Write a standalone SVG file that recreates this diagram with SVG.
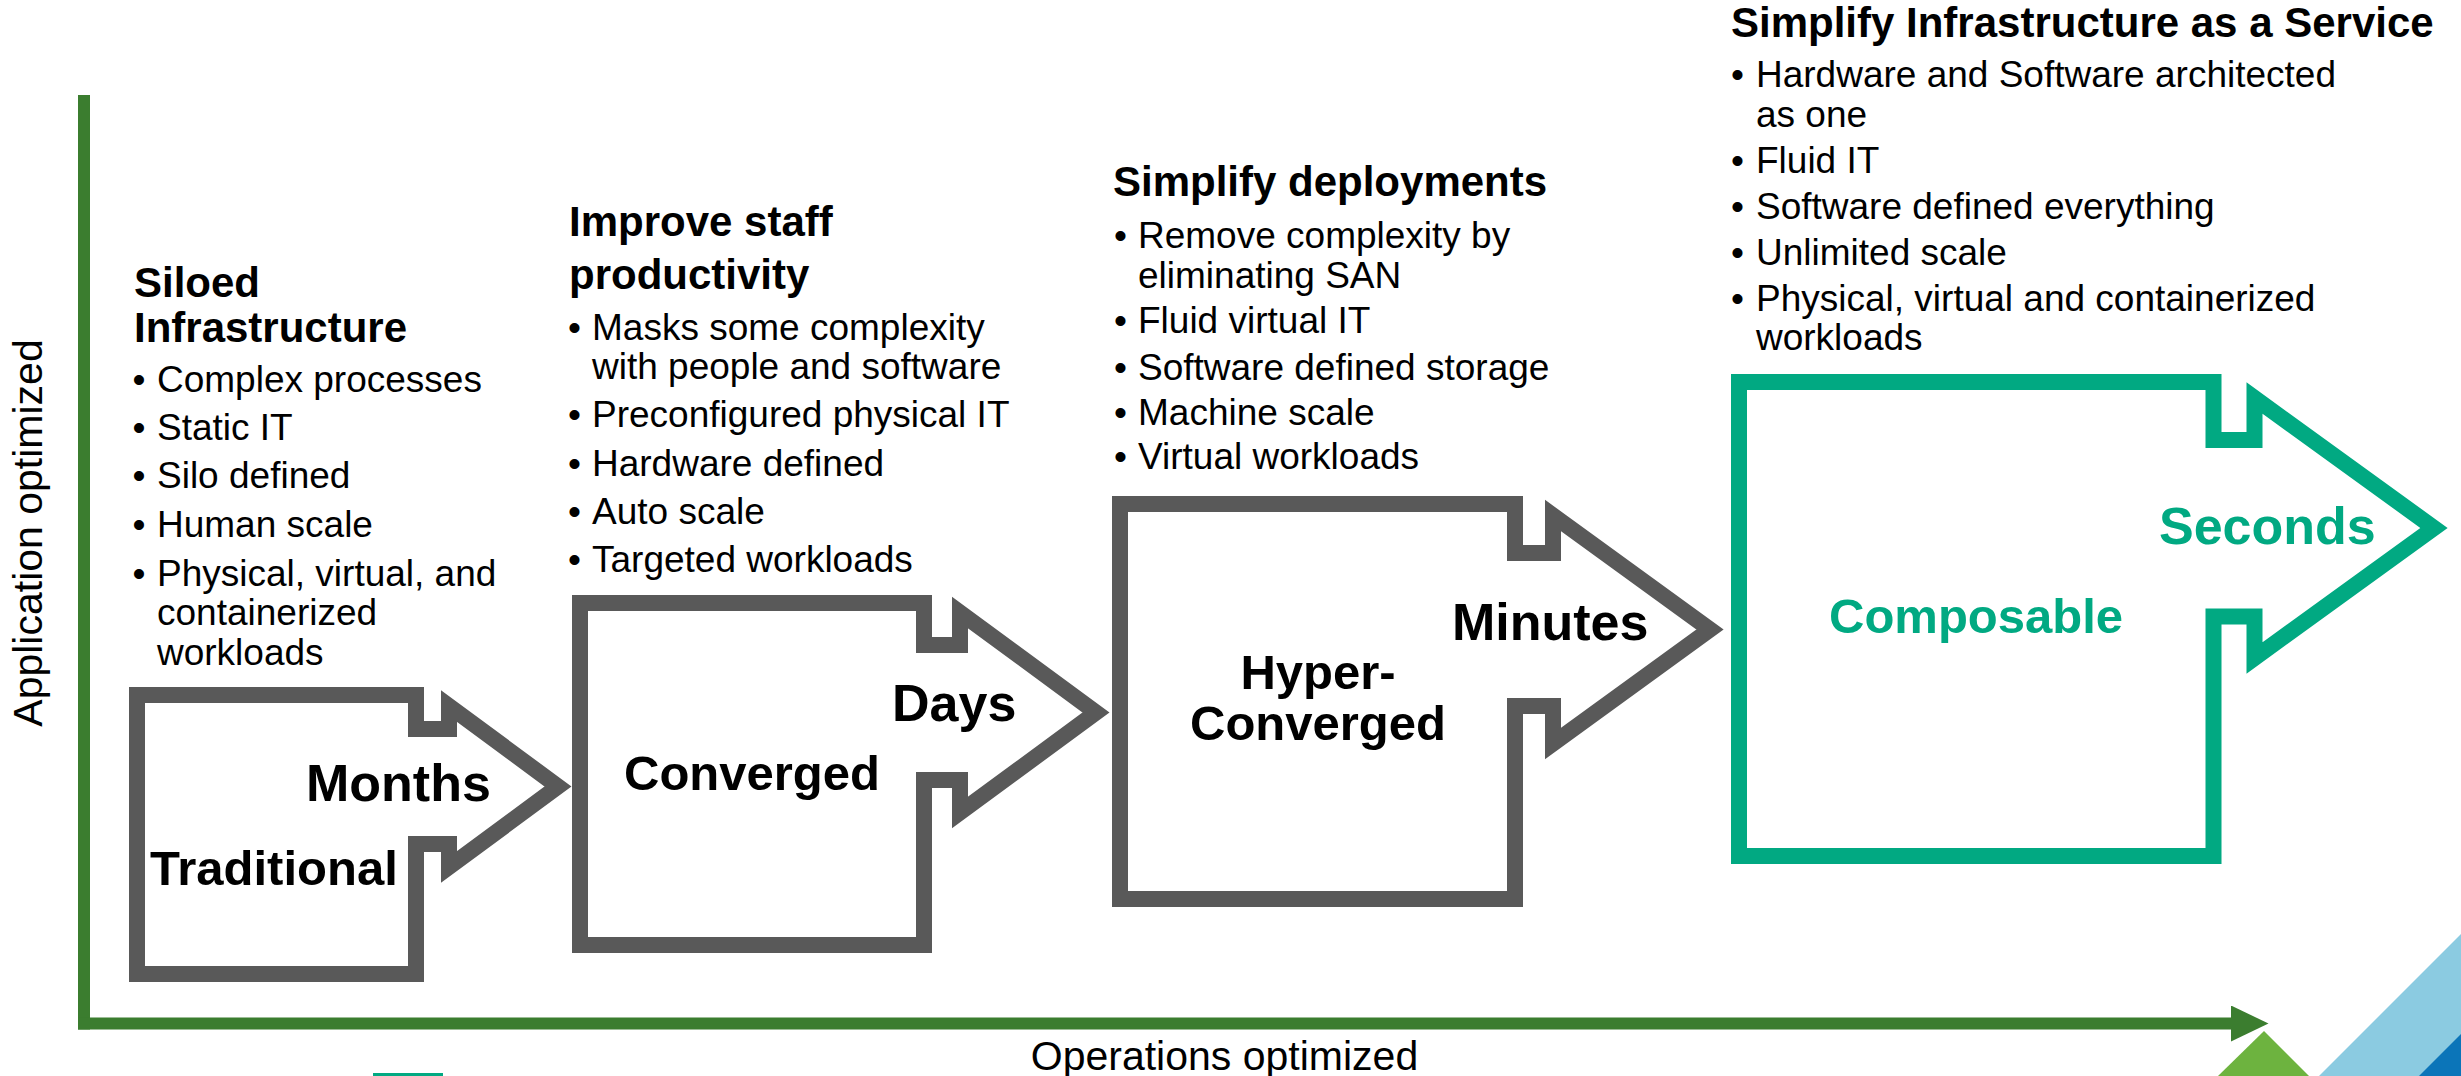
<svg xmlns="http://www.w3.org/2000/svg" width="2461" height="1076" viewBox="0 0 2461 1076">
<defs>
<style>
text{font-family:"Liberation Sans",Arial,sans-serif;fill:#000}
.h{font-size:42px;font-weight:bold}
.b{font-size:37px}
.time{font-size:52px;font-weight:bold}
.name{font-size:49px;font-weight:bold}
.ax{font-size:41px}
.shape{fill:#fff;stroke:#595959;stroke-width:16;stroke-linejoin:miter;stroke-miterlimit:10}
.teal{stroke:#01A982}
.tealtxt{fill:#01A982}
.axis{stroke:#3B7D2F;stroke-width:12;fill:none}
</style>
<marker id="axhead" markerUnits="userSpaceOnUse" markerWidth="40" markerHeight="40" refX="0" refY="18" orient="auto">
<path d="M0,0 L37.5,18 L0,36 Z" fill="#3B7D2F"/>
</marker>
</defs>
<rect width="2461" height="1076" fill="#fff"/>

<g id="decoration">
<polygon points="2264,1031 2218,1076 2309,1076" fill="#6DB33F"/>
<polygon points="2319,1076 2461,934 2461,1076" fill="#8BCBE1"/>
<polygon points="2419,1076 2461,1034 2461,1076" fill="#0B75B9"/>
<rect x="373" y="1073" width="70" height="3" fill="#01A982"/>
</g>

<g id="connectors">
<line class="axis" x1="84" y1="95" x2="84" y2="1029.5"/>
<line class="axis" x1="78" y1="1023.5" x2="2231" y2="1023.5" marker-end="url(#axhead)"/>
<text class="ax" transform="translate(42,533) rotate(-90)" text-anchor="middle">Application optimized</text>
<text class="ax" x="1224.5" y="1070" text-anchor="middle">Operations optimized</text>
</g>

<g id="traditional">
<path class="shape" d="M137,695 H416 V729 H449 V706 L558,786.5 L449,867 V844 H416 V974 H137 Z"/>
<text class="time" x="306" y="801">Months</text>
<text class="name" x="150" y="885">Traditional</text>
<text class="h"><tspan x="134" y="297">Siloed</tspan><tspan x="134" y="342">Infrastructure</tspan></text>
<text class="b"><tspan x="132.5" y="392">•</tspan><tspan x="132.5" y="440">•</tspan><tspan x="132.5" y="488">•</tspan><tspan x="132.5" y="537">•</tspan><tspan x="132.5" y="586">•</tspan></text>
<text class="b"><tspan x="157" y="392">Complex processes</tspan><tspan x="157" y="440">Static IT</tspan><tspan x="157" y="488">Silo defined</tspan><tspan x="157" y="537">Human scale</tspan><tspan x="157" y="586">Physical, virtual, and</tspan><tspan x="157" y="625">containerized</tspan><tspan x="157" y="665">workloads</tspan></text>
</g>

<g id="converged">
<path class="shape" d="M580,603 H924 V645 H960 V612.5 L1096,712.5 L960,812.5 V780 H924 V945 H580 Z"/>
<text class="time" x="892" y="721">Days</text>
<text class="name" x="624" y="790">Converged</text>
<text class="h"><tspan x="569" y="236">Improve staff</tspan><tspan x="569" y="289">productivity</tspan></text>
<text class="b"><tspan x="568" y="340">•</tspan><tspan x="568" y="427">•</tspan><tspan x="568" y="476">•</tspan><tspan x="568" y="524">•</tspan><tspan x="568" y="572">•</tspan></text>
<text class="b"><tspan x="592" y="340">Masks some complexity</tspan><tspan x="592" y="379">with people and software</tspan><tspan x="592" y="427">Preconfigured physical IT</tspan><tspan x="592" y="476">Hardware defined</tspan><tspan x="592" y="524">Auto scale</tspan><tspan x="592" y="572">Targeted workloads</tspan></text>
</g>

<g id="hyperconverged">
<path class="shape" d="M1120,504 H1515 V553 H1553 V515.5 L1710,629.5 L1553,743.5 V706 H1515 V899 H1120 Z"/>
<text class="time" x="1452" y="640">Minutes</text>
<text class="name" text-anchor="middle"><tspan x="1318" y="689">Hyper-</tspan><tspan x="1318" y="740">Converged</tspan></text>
<text class="h" x="1113" y="196">Simplify deployments</text>
<text class="b"><tspan x="1114" y="248">•</tspan><tspan x="1114" y="333">•</tspan><tspan x="1114" y="380">•</tspan><tspan x="1114" y="425">•</tspan><tspan x="1114" y="469">•</tspan></text>
<text class="b"><tspan x="1138" y="248">Remove complexity by</tspan><tspan x="1138" y="288">eliminating SAN</tspan><tspan x="1138" y="333">Fluid virtual IT</tspan><tspan x="1138" y="380">Software defined storage</tspan><tspan x="1138" y="425">Machine scale</tspan><tspan x="1138" y="469">Virtual workloads</tspan></text>
</g>

<g id="composable">
<path class="shape teal" d="M1739,382 H2213.5 V440 H2254.5 V398 L2434,528 L2254.5,658 V616.5 H2213.5 V856 H1739 Z"/>
<text class="time tealtxt" x="2159" y="544">Seconds</text>
<text class="name tealtxt" x="1829" y="633">Composable</text>
<text class="h" x="1731" y="37">Simplify Infrastructure as a Service</text>
<text class="b"><tspan x="1731" y="87">•</tspan><tspan x="1731" y="173">•</tspan><tspan x="1731" y="219">•</tspan><tspan x="1731" y="265">•</tspan><tspan x="1731" y="311">•</tspan></text>
<text class="b"><tspan x="1756" y="87">Hardware and Software architected</tspan><tspan x="1756" y="127">as one</tspan><tspan x="1756" y="173">Fluid IT</tspan><tspan x="1756" y="219">Software defined everything</tspan><tspan x="1756" y="265">Unlimited scale</tspan><tspan x="1756" y="311">Physical, virtual and containerized</tspan><tspan x="1756" y="350">workloads</tspan></text>
</g>
</svg>
